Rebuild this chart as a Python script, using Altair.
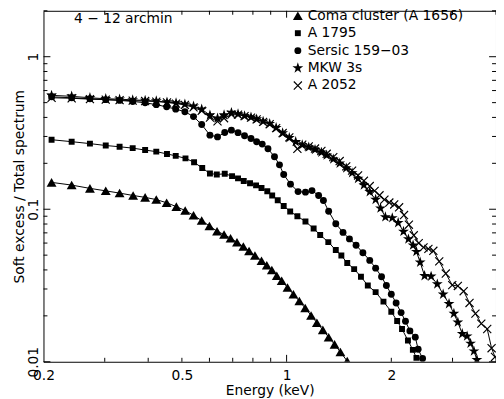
import altair as alt
import pandas as pd

# ---------------- data ----------------
series_names = ["Coma cluster (A 1656)", "A 1795", "Sersic 159−03", "MKW 3s", "A 2052"]

coma_energy = [0.211, 0.241, 0.272, 0.302, 0.331, 0.362, 0.392, 0.422, 0.452, 0.482,
               0.511, 0.540, 0.570, 0.600, 0.631, 0.661, 0.690, 0.720, 0.751, 0.780,
               0.811, 0.847, 0.877, 0.907, 0.937, 0.968, 1.006, 1.046, 1.088, 1.131,
               1.176, 1.222, 1.271, 1.321, 1.374, 1.428, 1.494]
coma_ratio = [0.150, 0.144, 0.137, 0.132, 0.1276, 0.1231, 0.1196, 0.1157, 0.1103, 0.104,
              0.0981, 0.0912, 0.0843, 0.0777, 0.0718, 0.0682, 0.0646, 0.0607, 0.0569, 0.0532,
              0.0497, 0.046, 0.043, 0.0399, 0.0366, 0.034, 0.0307, 0.0277, 0.025, 0.0225,
              0.0201, 0.01804, 0.01618, 0.0145, 0.013, 0.01157, 0.0101]

a1795_energy = [0.211, 0.241, 0.272, 0.302, 0.331, 0.361, 0.392, 0.422, 0.453, 0.480,
                0.512, 0.542, 0.572, 0.602, 0.630, 0.664, 0.697, 0.725, 0.753, 0.785,
                0.817, 0.847, 0.880, 0.909, 0.943, 0.981, 1.024, 1.074, 1.133, 1.196,
                1.249, 1.318, 1.385, 1.437, 1.494, 1.564, 1.636, 1.712, 1.803, 1.899,
                2.0, 2.079, 2.147, 2.233, 2.307, 2.362]
a1795_ratio = [0.2856, 0.2773, 0.2693, 0.2617, 0.2568, 0.2516, 0.2443, 0.2386, 0.2305, 0.2239,
               0.2156, 0.2033, 0.1863, 0.1715, 0.169, 0.1708, 0.1649, 0.1594, 0.1533, 0.1482,
               0.1433, 0.1378, 0.1313, 0.1231, 0.1145, 0.105, 0.0967, 0.0899, 0.0831, 0.0747,
               0.0678, 0.0609, 0.054, 0.0497, 0.0444, 0.0405, 0.0361, 0.0316, 0.0286, 0.0248,
               0.0213, 0.0185, 0.0164, 0.0138, 0.01196, 0.0106]

sersic_energy = [0.211, 0.241, 0.272, 0.302, 0.331, 0.361, 0.392, 0.422, 0.452, 0.480,
                 0.510, 0.540, 0.570, 0.602, 0.633, 0.664, 0.694, 0.725, 0.757, 0.790,
                 0.820, 0.851, 0.884, 0.923, 0.954, 0.981, 1.026, 1.079, 1.133, 1.183,
                 1.236, 1.276, 1.321, 1.385, 1.453, 1.516, 1.584, 1.657, 1.734, 1.803,
                 1.875, 1.936, 2.0, 2.065, 2.134, 2.197, 2.262, 2.344, 2.389, 2.460]
sersic_ratio = [0.546, 0.538, 0.530, 0.523, 0.517, 0.509, 0.499, 0.485, 0.469, 0.453,
                0.436, 0.405, 0.359, 0.306, 0.298, 0.3185, 0.330, 0.3177, 0.303, 0.291,
                0.2773, 0.2674, 0.2493, 0.2207, 0.1955, 0.169, 0.1461, 0.1305, 0.1294, 0.1325,
                0.1231, 0.114, 0.0971, 0.0804, 0.0705, 0.0639, 0.0581, 0.0519, 0.0462, 0.0411,
                0.0361, 0.0316, 0.0277, 0.0243, 0.0210, 0.01844, 0.01594, 0.0145, 0.01209, 0.01052]

mkw3s_energy = [0.211, 0.241, 0.272, 0.302, 0.331, 0.361, 0.392, 0.422, 0.453, 0.481,
                0.510, 0.540, 0.570, 0.602, 0.633, 0.661, 0.694, 0.725, 0.757, 0.790,
                0.820, 0.856, 0.894, 0.933, 0.974, 1.018, 1.062, 1.109, 1.158, 1.207,
                1.259, 1.304, 1.362, 1.421, 1.484, 1.543, 1.605, 1.668, 1.734, 1.803,
                1.862, 1.923, 2.013, 2.093, 2.168, 2.240, 2.310, 2.362, 2.421, 2.493,
                2.603, 2.712, 2.819, 2.931, 3.027, 3.107, 3.199, 3.304, 3.380, 3.457, 3.525]
mkw3s_ratio = [0.558, 0.550, 0.538, 0.530, 0.527, 0.521, 0.517, 0.512, 0.504, 0.497,
               0.488, 0.474, 0.452, 0.414, 0.395, 0.415, 0.430, 0.421, 0.409, 0.401,
               0.390, 0.377, 0.364, 0.342, 0.316, 0.294, 0.277, 0.264, 0.255, 0.246,
               0.236, 0.226, 0.213, 0.200, 0.186, 0.173, 0.159, 0.144, 0.130, 0.1157,
               0.1015, 0.0890, 0.0877, 0.0815, 0.0715, 0.0637, 0.0581, 0.0527, 0.0449, 0.0366,
               0.0363, 0.0323, 0.0277, 0.0240, 0.0207, 0.01817, 0.01526, 0.01472, 0.01319, 0.01174, 0.0103]

a2052_energy = [0.211, 0.241, 0.272, 0.302, 0.331, 0.361, 0.392, 0.422, 0.453, 0.481,
                0.510, 0.540, 0.570, 0.602, 0.633, 0.661, 0.694, 0.725, 0.757, 0.790,
                0.820, 0.856, 0.894, 0.933, 0.974, 1.018, 1.074, 1.109, 1.158, 1.207,
                1.259, 1.304, 1.362, 1.421, 1.484, 1.543, 1.605, 1.668, 1.734, 1.791,
                1.850, 1.911, 1.974, 2.039, 2.106, 2.176, 2.247, 2.321, 2.398, 2.476,
                2.557, 2.642, 2.747, 2.869, 2.994, 3.107, 3.229, 3.357, 3.491, 3.629,
                3.774, 3.885, 3.974]
a2052_ratio = [0.538, 0.534, 0.527, 0.523, 0.519, 0.515, 0.512, 0.508, 0.501, 0.493,
               0.483, 0.465, 0.442, 0.399, 0.377, 0.395, 0.417, 0.417, 0.408, 0.399,
               0.388, 0.374, 0.361, 0.340, 0.316, 0.296, 0.249, 0.265, 0.258, 0.250,
               0.241, 0.231, 0.2197, 0.207, 0.191, 0.179, 0.1665, 0.1537, 0.1419, 0.1319,
               0.1235, 0.1157, 0.1107, 0.1075, 0.1030, 0.0916, 0.0792, 0.0675, 0.0600, 0.0562,
               0.0550, 0.0534, 0.0455, 0.0379, 0.0318, 0.0314, 0.0290, 0.0243, 0.0207, 0.0178,
               0.0164, 0.01227, 0.01075]

x_label_values = [0.2, 0.5, 1, 2]
y_label_values = [0.01, 0.1, 1]
x_major_ticks = [1]
x_minor_ticks = [0.3, 0.4, 0.5, 0.6, 0.7, 0.8, 0.9, 2, 3, 4]
y_major_ticks = [0.01, 0.1, 1]
y_minor_ticks = [0.02, 0.03, 0.04, 0.05, 0.06, 0.07, 0.08, 0.09,
                 0.2, 0.3, 0.4, 0.5, 0.6, 0.7, 0.8, 0.9, 2]
annotation = ["4 − 12 arcmin"]

# ---------------- build table ----------------
energies = [coma_energy, a1795_energy, sersic_energy, mkw3s_energy, a2052_energy]
ratios = [coma_ratio, a1795_ratio, sersic_ratio, mkw3s_ratio, a2052_ratio]
rows = []
for name, es, rs in zip(series_names, energies, ratios):
    for e, r in zip(es, rs):
        rows.append({"series": name, "energy": e, "ratio": r})
df = pd.DataFrame(rows)

# ---------------- styling ----------------
W, H = 459, 356
FONT = "DejaVu Sans"
FS = 14
STAR = ("M0,-1L0.2245,-0.309L0.951,-0.309L0.363,0.118L0.588,0.809L0,0.382"
        "L-0.588,0.809L-0.363,0.118L-0.951,-0.309L-0.2245,-0.309Z")
XMARK = ("M-0.9,-1.1L1.1,0.9L0.9,1.1L-1.1,-0.9Z"
         "M-0.9,1.1L-1.1,0.9L0.9,-1.1L1.1,-0.9Z")
shape_range = ["triangle-up", "square", "circle", STAR, XMARK]
size_range = [100, 36, 49, 134, 67]

xscale = alt.Scale(type="log", domain=[0.2, 4.0], nice=False)
yscale = alt.Scale(type="log", domain=[0.01, 2.0], nice=False)

x_axis = alt.Axis(values=x_label_values, format="~g", title="Energy (keV)",
                  ticks=False, tickSize=0, domain=False, grid=False,
                  labelFlush=False, labelOverlap=False, labelPadding=7,
                  labelFont=FONT, labelFontSize=FS, labelColor="black",
                  titleFont=FONT, titleFontSize=FS, titleFontWeight="normal",
                  titleColor="black", titlePadding=1)
y_axis = alt.Axis(values=y_label_values, format="~g", title="Soft excess / Total spectrum",
                  ticks=False, tickSize=0, domain=False, grid=False,
                  labelFlush=False, labelOverlap=False, labelPadding=3,
                  labelAngle=270, labelAlign="center", labelBaseline="bottom",
                  labelFont=FONT, labelFontSize=FS, labelColor="black",
                  titleFont=FONT, titleFontSize=FS, titleFontWeight="normal",
                  titleColor="black", titlePadding=0)

X_ENERGY = alt.X("energy:Q", scale=xscale, axis=x_axis, title="Energy (keV)")
Y_RATIO = alt.Y("ratio:Q", scale=yscale, axis=y_axis, title="Soft excess / Total spectrum")

lines = alt.Chart(df).mark_line(color="black", strokeWidth=1, clip=True).encode(
    x=X_ENERGY, y=Y_RATIO, detail="series:N", order="energy:Q",
)

legend = alt.Legend(title=None, orient="none", legendX=251, legendY=-2,
                    labelFont=FONT, labelFontSize=FS, labelColor="black",
                    labelOffset=3, rowPadding=3.7,
                    symbolFillColor="black", symbolStrokeWidth=0, symbolOpacity=1)

points = alt.Chart(df).mark_point(filled=True, color="black", fill="black",
                                  opacity=1, clip=True).encode(
    x=X_ENERGY, y=Y_RATIO,
    shape=alt.Shape("series:N", scale=alt.Scale(type="ordinal", domain=series_names,
                                                range=shape_range), legend=legend),
    size=alt.Size("series:N", scale=alt.Scale(type="ordinal", domain=series_names,
                                              range=size_range), legend=legend),
)


def x_ticks(vals, length):
    base = alt.Chart(pd.DataFrame({"v": vals}))
    enc_x = alt.X("v:Q", scale=xscale, axis=x_axis, title="Energy (keV)")
    bottom = base.mark_rule(color="black", strokeWidth=1).encode(
        x=enc_x, y=alt.value(H), y2=alt.value(H - length))
    top = base.mark_rule(color="black", strokeWidth=1).encode(
        x=enc_x, y=alt.value(0), y2=alt.value(length))
    return [bottom, top]


def y_ticks(vals, length):
    base = alt.Chart(pd.DataFrame({"v": vals}))
    enc_y = alt.Y("v:Q", scale=yscale, axis=y_axis, title="Soft excess / Total spectrum")
    left = base.mark_rule(color="black", strokeWidth=1).encode(
        y=enc_y, x=alt.value(0), x2=alt.value(length))
    right = base.mark_rule(color="black", strokeWidth=1).encode(
        y=enc_y, x=alt.value(W), x2=alt.value(W - length))
    return [left, right]


tick_layers = (x_ticks(x_major_ticks, 7) + x_ticks(x_minor_ticks, 4)
               + y_ticks(y_major_ticks, 7) + y_ticks(y_minor_ticks, 4))

note = alt.Chart(pd.DataFrame({"t": annotation})).mark_text(
    align="left", baseline="middle", font=FONT, fontSize=FS, color="black"
).encode(text="t:N", x=alt.value(31), y=alt.value(8))

chart = alt.layer(lines, points, *tick_layers, note).properties(
    width=W, height=H,
    autosize=alt.AutoSizeParams(type="none"),
    padding={"left": 36, "top": 0, "right": 0, "bottom": 40},
).configure_view(stroke="black", strokeWidth=1)

chart.save("out.html", embed_options={"renderer": "svg", "actions": False})
